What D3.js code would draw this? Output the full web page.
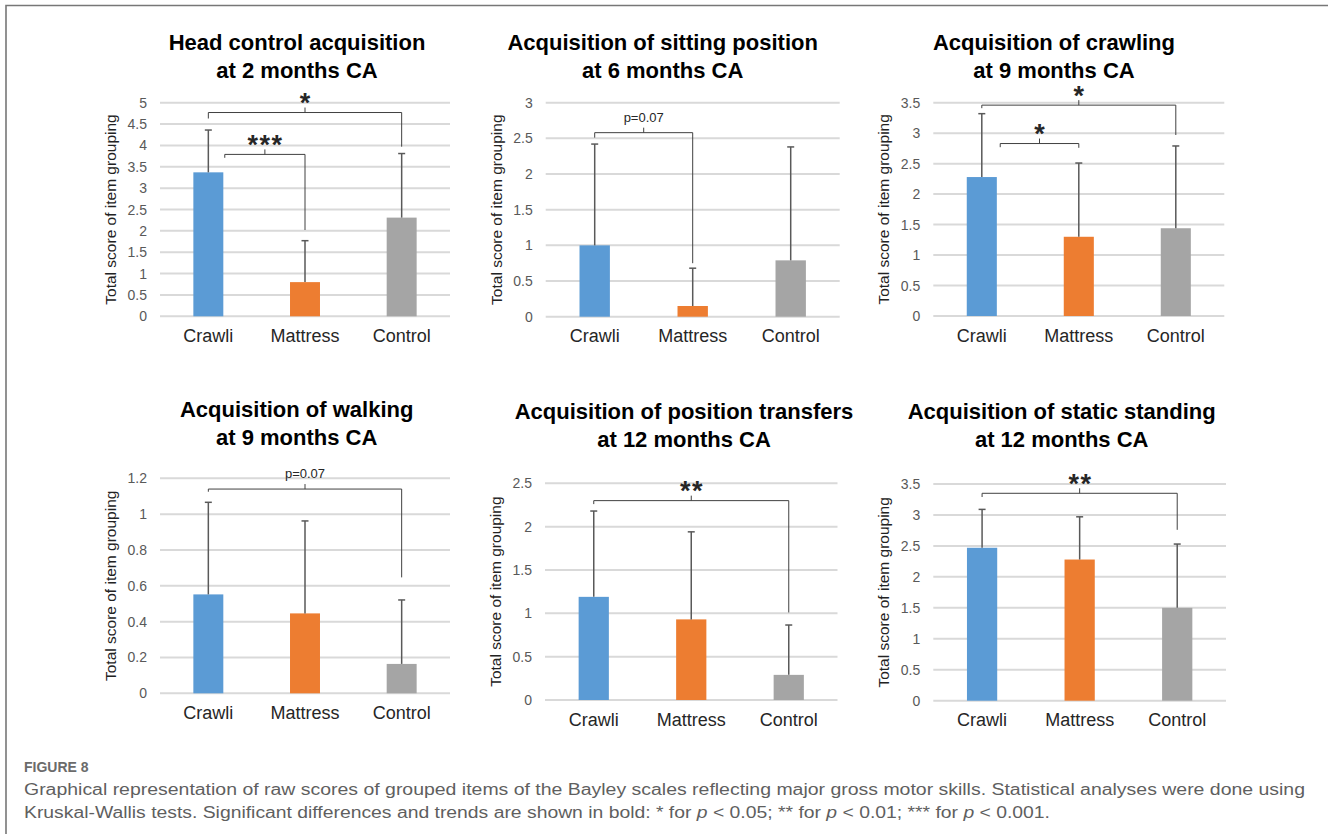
<!DOCTYPE html>
<html>
<head>
<meta charset="utf-8">
<script src="https://cdn.jsdelivr.net/npm/d3@7"></script>
<style>
  body { margin: 0; background: #fff; }
  text { font-family: "Liberation Sans", Arial, sans-serif; }
</style>
</head>
<body>
<script>
// groups on the x axis of every panel
const groups = ["Crawli", "Mattress", "Control"];

// panel titles (two lines each)
const titles = [
  ["Head control acquisition", "at 2 months CA"],
  ["Acquisition of sitting position", "at 6 months CA"],
  ["Acquisition of crawling", "at 9 months CA"],
  ["Acquisition of walking", "at 9 months CA"],
  ["Acquisition of position transfers", "at 12 months CA"],
  ["Acquisition of static standing", "at 12 months CA"]
];

// mean score per group, one row per panel
const means = [
  [3.37, 0.80, 2.31],
  [1.00, 0.15, 0.79],
  [2.28, 1.30, 1.44],
  [0.552, 0.446, 0.164],
  [1.19, 0.93, 0.29],
  [2.47, 2.28, 1.50]
];

// standard deviations (upper error bars)
const sds = [
  [0.99, 0.97, 1.50],
  [1.42, 0.53, 1.59],
  [1.04, 1.21, 1.35],
  [0.514, 0.516, 0.357],
  [0.99, 1.01, 0.575],
  [0.62, 0.69, 1.03]
];

// y axis max and tick step per panel
const yMaxes = [5, 3, 3.5, 1.2, 2.5, 3.5];
const ySteps = [0.5, 0.5, 0.5, 0.2, 0.5, 0.5];

// significance brackets: groups a->b, bar height y, leg ends ya / yb (data units)
const brackets = [
  [{a: 0, b: 2, y: 4.77, ya: 4.63, yb: 3.97, label: "*"},
   {a: 0, b: 1, y: 3.79, ya: 3.71, yb: 2.02, label: "***", shiftA: 0.17}],
  [{a: 0, b: 1, y: 2.58, ya: 2.51, yb: 0.75, label: "p=0.07"}],
  [{a: 0, b: 2, y: 3.46, ya: 3.41, yb: 2.97, label: "*"},
   {a: 0, b: 1, y: 2.83, ya: 2.77, yb: 2.76, label: "*", shiftA: 0.19}],
  [{a: 0, b: 2, y: 1.14, ya: 1.125, yb: 0.647, label: "p=0.07"}],
  [{a: 0, b: 2, y: 2.30, ya: 2.26, yb: 1.01, label: "**"}],
  [{a: 0, b: 2, y: 3.35, ya: 3.29, yb: 2.76, label: "**"}]
];

const captionHead = "FIGURE 8";

// layout of each panel (pixels)
const layout = [
  {left: 160,   right: 450,    top: 102.7, bottom: 316.3, titleX: 297,    titleY: 49.9},
  {left: 545.7, right: 839.7,  top: 102.7, bottom: 316.7, titleX: 662.7,  titleY: 49.9},
  {left: 933.3, right: 1224.3, top: 102.7, bottom: 316,   titleX: 1054,   titleY: 49.9},
  {left: 160,   right: 450,    top: 478.3, bottom: 693.3, titleX: 296.7,  titleY: 417},
  {left: 545,   right: 837.5,  top: 483.3, bottom: 700,   titleX: 684,    titleY: 419},
  {left: 933.3, right: 1226,   top: 484,   bottom: 700.7, titleX: 1061.7, titleY: 419}
];

const colors = d3.scaleOrdinal().domain(groups).range(["#5b9bd5", "#ed7d31", "#a5a5a5"]);

const svg = d3.select("body").append("svg")
    .attr("width", 1328)
    .attr("height", 834);

// frame lines (top and left)
svg.append("path")
    .attr("d", "M6,834 V5.5 H1328")
    .attr("fill", "none")
    .attr("stroke", "#777")
    .attr("stroke-width", 1.6);

layout.forEach(function(L, i) {
    var g = svg.append("g");

    var x = d3.scaleBand()
        .domain(groups)
        .range([L.left, L.right])
        .paddingInner(0.69)
        .paddingOuter(0.345);
    var step = x.step();

    var y = d3.scaleLinear()
        .domain([0, yMaxes[i]])
        .range([L.bottom, L.top]);

    var ticks = d3.range(0, yMaxes[i] + 1e-9, ySteps[i]).map(v => +v.toFixed(2));

    // gridlines
    g.selectAll(".grid")
      .data(ticks)
      .enter().append("line")
        .attr("x1", L.left)
        .attr("x2", L.right)
        .attr("y1", d => y(d))
        .attr("y2", d => y(d))
        .attr("stroke", "#d9d9d9")
        .attr("stroke-width", 2);

    // y tick labels
    g.selectAll(".tick")
      .data(ticks)
      .enter().append("text")
        .attr("x", L.left - 13)
        .attr("y", d => y(d) + 5)
        .attr("text-anchor", "end")
        .attr("font-size", 14)
        .attr("fill", "#595959")
        .text(d => String(d));

    // y axis title
    var yc = (L.top + L.bottom) / 2;
    g.append("text")
        .attr("transform", "translate(" + (L.left - 44) + "," + yc + ") rotate(-90)")
        .attr("text-anchor", "middle")
        .attr("font-size", 15.5)
        .attr("fill", "#222")
        .text("Total score of item grouping");

    // bars
    var rows = groups.map((k, j) => ({key: k, mean: means[i][j], sd: sds[i][j]}));
    g.selectAll(".bar")
      .data(rows)
      .enter().append("rect")
        .attr("x", d => x(d.key))
        .attr("width", x.bandwidth())
        .attr("y", d => y(d.mean))
        .attr("height", d => y(0) - y(d.mean))
        .attr("fill", d => colors(d.key));

    // error bars (upper only)
    var eb = g.selectAll(".err")
      .data(rows)
      .enter().append("g")
        .attr("stroke", "#595959")
        .attr("stroke-width", 1.5);
    eb.append("line")
        .attr("x1", d => x(d.key) + x.bandwidth() / 2)
        .attr("x2", d => x(d.key) + x.bandwidth() / 2)
        .attr("y1", d => y(d.mean))
        .attr("y2", d => y(d.mean + d.sd));
    eb.append("line")
        .attr("x1", d => x(d.key) + x.bandwidth() / 2 - 3.5)
        .attr("x2", d => x(d.key) + x.bandwidth() / 2 + 3.5)
        .attr("y1", d => y(d.mean + d.sd))
        .attr("y2", d => y(d.mean + d.sd));

    // category labels
    g.selectAll(".cat")
      .data(groups)
      .enter().append("text")
        .attr("x", d => x(d) + x.bandwidth() / 2)
        .attr("y", L.bottom + 25.5)
        .attr("text-anchor", "middle")
        .attr("font-size", 18)
        .attr("fill", "#262626")
        .text(d => d);

    // title
    var t = g.append("text")
        .attr("text-anchor", "middle")
        .attr("font-size", 22)
        .attr("font-weight", "bold")
        .attr("fill", "#000");
    titles[i].forEach(function(line, k) {
        t.append("tspan")
            .attr("x", L.titleX)
            .attr("y", L.titleY + k * 28)
            .text(line);
    });

    // significance brackets
    brackets[i].forEach(function(b) {
        var x1 = x(groups[b.a]) + x.bandwidth() / 2 + (b.shiftA || 0) * step;
        var x2 = x(groups[b.b]) + x.bandwidth() / 2;
        var yl = y(b.y);
        var mid = (x1 + x2) / 2;
        g.append("path")
            .attr("d", "M" + x1 + "," + y(b.ya) + " V" + yl + " H" + x2 + " V" + y(b.yb) +
                       " M" + mid + "," + yl + " v-5")
            .attr("fill", "none")
            .attr("stroke", "#404040")
            .attr("stroke-width", 1);
        var isP = b.label.startsWith("p");
        var ls = isP ? 0 : 1.5;
        g.append("text")
            .attr("x", mid + ls / 2)
            .attr("y", isP ? yl - 11 : yl - 0.5)
            .attr("text-anchor", "middle")
            .attr("font-family", isP ? null : "'DejaVu Sans', sans-serif")
            .attr("font-size", isP ? 13 : 27)
            .attr("font-weight", isP ? "normal" : "bold")
            .attr("letter-spacing", ls)
            .attr("fill", "#262626")
            .text(b.label);
    });
});

// caption
svg.append("text")
    .attr("x", 24)
    .attr("y", 771.5)
    .attr("font-family", "'Open Sans', sans-serif")
    .attr("font-size", 14)
    .attr("font-weight", 600)
    .attr("fill", "#6b6b6b")
    .text(captionHead);

svg.append("text")
    .attr("x", 24)
    .attr("y", 795)
    .attr("font-family", "'Open Sans', sans-serif")
    .attr("font-size", 16)
    .attr("fill", "#5f5f5f")
    .attr("textLength", 1281)
    .attr("lengthAdjust", "spacingAndGlyphs")
    .text("Graphical representation of raw scores of grouped items of the Bayley scales reflecting major gross motor skills. Statistical analyses were done using");

var cap2 = svg.append("text")
    .attr("x", 24)
    .attr("y", 818)
    .attr("font-family", "'Open Sans', sans-serif")
    .attr("font-size", 16)
    .attr("fill", "#5f5f5f")
    .attr("textLength", 1026)
    .attr("lengthAdjust", "spacingAndGlyphs");
[["Kruskal-Wallis tests. Significant differences and trends are shown in bold: * for ", false],
 ["p", true], [" < 0.05; ** for ", false],
 ["p", true], [" < 0.01; *** for ", false],
 ["p", true], [" < 0.001.", false]].forEach(function(s) {
    cap2.append("tspan")
        .attr("font-style", s[1] ? "italic" : "normal")
        .text(s[0]);
});
</script>
</body>
</html>
